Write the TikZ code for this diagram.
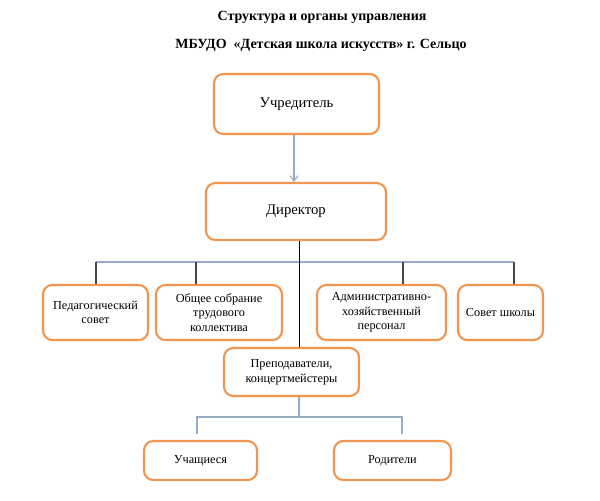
\documentclass[tikz,border=0pt]{standalone}
\usepackage{fontspec}
\setmainfont{Liberation Serif}
\usetikzlibrary{arrows.meta}
\definecolor{borange}{RGB}{240,150,80}
\definecolor{lblue}{RGB}{150,172,198}
\definecolor{dgray}{RGB}{70,70,70}
\begin{document}
\begin{tikzpicture}[x=0.75pt,y=-0.75pt,
  box/.style 2 args={draw=borange,line width=1.6pt,rounded corners=7pt,fill=white,
    minimum width=#1*0.75pt,minimum height=#2*0.75pt,align=center,inner sep=1pt,
    font=\fontsize{9.2pt}{11pt}\selectfont},
  bigbox/.style 2 args={box={#1}{#2},font=\fontsize{11pt}{13pt}\selectfont},
  bus/.style={draw=lblue,line width=0.8pt},
  drop/.style={draw=dgray,line width=0.8pt},
  title/.style={font=\bfseries\fontsize{10.5pt}{12pt}\selectfont}]
\useasboundingbox[fill=white] (0,0) rectangle (600,500);
\node[title] (t1) at (322,17) {Структура и органы управления};
\node[title] (t2) at (321,45) {МБУДО\ \ «Детская школа искусств» г. Сельцо};

\node[bigbox={165}{60}] (uch) at (296.5,104) {Учредитель};
\node[bigbox={180}{57}] (dir) at (296,211.5) {Директор};
\node[box={105}{55}] (ped) at (95.5,312.5) {Педагогический\\совет};
\node[box={126}{55}] (obs) at (219,312.5) {Общее собрание\\трудового\\коллектива};
\node[box={129}{55}] (adm) at (381.5,312.5) {Административно-\\хозяйственный\\персонал};
\node[box={85}{55}] (sov) at (500.5,312.5) {Совет школы};
\node[box={135}{48}] (pre) at (291.5,372) {Преподаватели,\\концертмейстеры};
\node[box={113}{39}] (ucha) at (200.5,460.5) {Учащиеся};
\node[box={117}{39}] (rod) at (392.5,460.5) {Родители};

% Учредитель -> Директор
\coordinate (a1) at (294,0);
\draw[lblue,line width=0.8pt,-{Straight Barb[length=4pt,width=6pt]}] (uch.south -| a1) -- (dir.north -| a1);

% bus
\coordinate (b1) at (96,262);
\coordinate (b2) at (196,262);
\coordinate (b3) at (403,262);
\coordinate (b4) at (514,262);
\coordinate (dx) at (299,0);
\draw[bus] (b1) -- (b4);
\draw[drop] (b1) -- (b1 |- ped.north);
\draw[drop] (b2) -- (b2 |- obs.north);
\draw[drop] (b3) -- (b3 |- adm.north);
\draw[drop] (b4) -- (b4 |- sov.north);
\draw[draw=black,line width=0.7pt] (dir.south -| dx) -- (pre.north -| dx);

% lower bus
\coordinate (l1) at (197,417);
\coordinate (l2) at (402,417);
\coordinate (e1) at (197,434);
\coordinate (e2) at (402,434);
\draw[bus] (pre.south -| dx) -- (dx |- l1);
\draw[bus] (e1) -- (l1) -- (l2) -- (e2);
\end{tikzpicture}
\end{document}
